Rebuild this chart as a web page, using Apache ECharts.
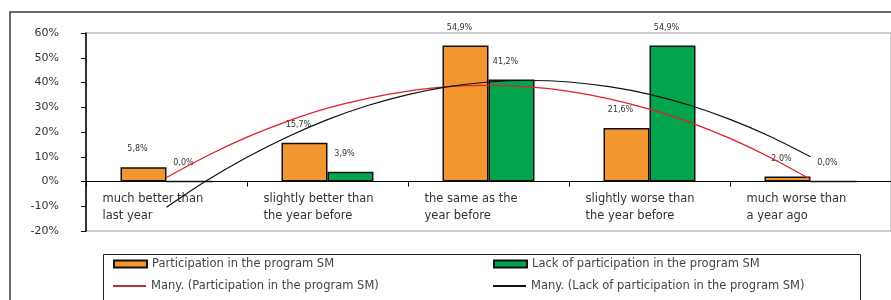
<!DOCTYPE html>
<html>
<head>
<meta charset="utf-8">
<script src="https://cdn.jsdelivr.net/npm/echarts@6/dist/echarts.min.js"></script>
<style>
html,body{margin:0;padding:0;background:#fff;}
#chart{width:891px;height:300px;}
</style>
</head>
<body>
<div id="chart"></div>
<script>
// ---- data ----
var categories = [
  'much better than\nlast year',
  'slightly better than\nthe year before',
  'the same as the\nyear before',
  'slightly worse than\nthe year before',
  'much worse than\na year ago'
];
var seriesNames = [
  'Participation in the program SM',
  'Lack of participation in the program SM',
  'Many. (Participation in the program SM)',
  'Many. (Lack of participation in the program SM)'
];
var participation = [5.8, 15.7, 54.9, 21.6, 2.0];
var lackParticipation = [0.0, 3.9, 41.2, 54.9, 0.0];
// trend curves read at quarter-category steps (category index 1..5)
var trendX = [1, 1.25, 1.5, 1.75, 2, 2.25, 2.5, 2.75, 3, 3.25, 3.5, 3.75, 4, 4.25, 4.5, 4.75, 5];
var trendParticipation = [1.6, 10.3, 17.9, 24.3, 29.6, 33.6, 36.5, 38.3, 38.8, 38.2, 36.4, 33.4, 29.2, 23.9, 17.4, 9.7, 0.9];
var trendLack = [-10.4, 0.4, 9.8, 18.0, 25.0, 30.7, 35.1, 38.3, 40.2, 40.8, 40.2, 38.3, 35.2, 30.8, 25.1, 18.2, 10.0];
var yTicks = {min: -20, max: 60, interval: 10};

function pairs(xs, ys) { return xs.map(function (x, i) { return [x, ys[i]]; }); }
function pct(v) { return v.toFixed(1).replace('.', ',') + '%'; }

var FONT = 'DejaVu Sans';
var chart = echarts.init(document.getElementById('chart'), null, {renderer: 'canvas'});

var barLabel = {
  show: true, position: 'top', distance: 14, offset: [-6, 0],
  fontSize: 8, fontFamily: FONT, color: '#333',
  formatter: function (p) { return pct(p.value); }
};

function legendItem(name, left, top, icon, h) {
  return {
    data: [name], left: left, top: top, padding: 0,
    icon: icon, itemWidth: 33, itemHeight: h, itemGap: 0,
    textStyle: {fontFamily: FONT, fontSize: 11.5, color: '#444'},
    selectedMode: false
  };
}

chart.setOption({
  animation: false,
  backgroundColor: '#fff',
  textStyle: {fontFamily: FONT},
  grid: {left: 86, top: 33, right: -5, bottom: 69, show: true, borderColor: '#9a9a9a', borderWidth: 1},
  graphic: [
    {type: 'rect', shape: {x: 10, y: 12, width: 900, height: 300}, style: {fill: 'none', stroke: '#3a3a3a', lineWidth: 1.5}, z: -1},
    {type: 'rect', shape: {x: 103.5, y: 254.5, width: 757, height: 60}, style: {fill: 'none', stroke: '#222', lineWidth: 1}}
  ],
  legend: [
    legendItem(seriesNames[0], 113, 258, 'rect', 7),
    legendItem(seriesNames[1], 493, 258, 'rect', 7),
    legendItem(seriesNames[2], 113, 280, 'rect', 2),
    legendItem(seriesNames[3], 493, 280, 'rect', 2)
  ],
  xAxis: [
    {
      type: 'category', data: categories, boundaryGap: true,
      axisLine: {onZero: true, lineStyle: {color: '#000', width: 1.2}},
      axisTick: {show: true, length: 5, lineStyle: {color: '#000'}},
      splitLine: {show: false},
      axisLabel: {
        interval: 0, margin: -40,
        formatter: function (v) {
          return v.split('\n').map(function (s) { return '{a|' + s + '}'; }).join('\n');
        },
        rich: {a: {width: 128, align: 'left', fontSize: 11.5, lineHeight: 17, fontFamily: FONT, color: '#333'}}
      }
    },
    {type: 'value', min: 0.5, max: 5.5, show: false}
  ],
  yAxis: {
    type: 'value', min: yTicks.min, max: yTicks.max, interval: yTicks.interval,
    axisLine: {show: true, lineStyle: {color: '#000', width: 1.5}},
    axisTick: {show: true, length: 5, lineStyle: {color: '#000'}},
    splitLine: {show: false},
    axisLabel: {margin: 27, fontSize: 11, fontFamily: FONT, color: '#333', formatter: '{value}%'}
  },
  series: [
    {
      name: seriesNames[0], type: 'bar', data: participation, xAxisIndex: 0,
      barWidth: 46, barGap: '0%',
      itemStyle: {color: '#F2962F', borderColor: '#111', borderWidth: 1.5},
      label: barLabel
    },
    {
      name: seriesNames[1], type: 'bar', data: lackParticipation, xAxisIndex: 0,
      barWidth: 46, barGap: '0%',
      itemStyle: {color: '#03A44E', borderColor: '#111', borderWidth: 1.5},
      label: barLabel
    },
    {
      name: seriesNames[2], type: 'line', xAxisIndex: 1, data: pairs(trendX, trendParticipation),
      smooth: 0.3, symbol: 'none', z: 5,
      lineStyle: {color: '#E0202A', width: 1.3},
      itemStyle: {color: '#B03535'}
    },
    {
      name: seriesNames[3], type: 'line', xAxisIndex: 1, data: pairs(trendX, trendLack),
      smooth: 0.3, symbol: 'none', z: 5,
      lineStyle: {color: '#111', width: 1.2},
      itemStyle: {color: '#111'}
    }
  ]
});
</script>
</body>
</html>
